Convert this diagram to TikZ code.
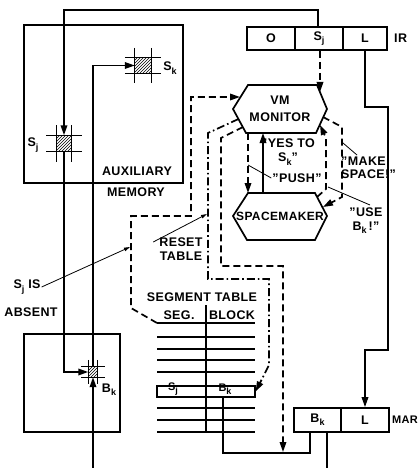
\documentclass[tikz,border=0pt]{standalone}
\usepackage{fontspec}
\setmainfont[LetterSpace=3]{Liberation Sans}
\usetikzlibrary{arrows.meta,patterns}
\newcommand\lsb[1]{\raisebox{-0.5ex}{\fontsize{9}{9}\selectfont #1}}
\newcommand\cellgrid[2]{%
  \draw[gridln] ([xshift=-#2]#1.north west) -- ([xshift=#2]#1.north east);
  \draw[gridln] ([xshift=-#2]#1.south west) -- ([xshift=#2]#1.south east);
  \draw[gridln] ([yshift=#2]#1.north west) -- ([yshift=-#2]#1.south west);
  \draw[gridln] ([yshift=#2]#1.north east) -- ([yshift=-#2]#1.south east);}
\begin{document}
\begin{tikzpicture}[x=1pt,y=-1pt,
  every node/.style={inner sep=0pt, font=\fontsize{12.5}{14}\selectfont\bfseries},
  ln/.style={line width=1.7pt},
  dln/.style={line width=1.7pt, dash pattern=on 7pt off 4pt},
  ddln/.style={line width=1.7pt, dash pattern=on 8pt off 3pt on 1.6pt off 3pt},
  thinln/.style={line width=0.8pt},
  gridln/.style={line width=0.9pt},
  tip/.style={-{Triangle[length=10pt,width=6.5pt]}},
  stip/.style={-{Triangle[length=6pt,width=3.5pt]}},
  regbox/.style={draw, line width=1.7pt, minimum height=23pt},
  cellbox/.style={pattern=north east lines, inner sep=0pt},
  frame/.style={draw, line width=1.4pt, inner sep=0pt},
  hexln/.style={line width=1.7pt}
]
\useasboundingbox (0,0) rectangle (418,468);

% IR register
\node[regbox, minimum width=48pt] (irO) at (271,38.5) {O};
\node[regbox, minimum width=48pt] (irS) at (319,38.5) {S\lsb{j}};
\node[regbox, minimum width=44pt] (irL) at (365,38.5) {L};
\node[anchor=west] (irlab) at (394,38.5) {IR};

% auxiliary memory
\node[frame, minimum width=159pt, minimum height=158pt] (aux) at (103.5,104) {};
\node (auxA) at (137,171) {AUXILIARY};
\node (auxM) at (136,192) {MEMORY};

\node[cellbox, minimum width=16pt, minimum height=15pt] (sk) at (143,65.5) {};
\cellgrid{sk}{10pt}
\node (sklab) at (170,68) {S\lsb{k}};
\node[cellbox, minimum width=15pt, minimum height=16pt] (sj) at (64,143.5) {};
\cellgrid{sj}{10pt}
\node (sjlab) at (33,145) {S\lsb{j}};

% main memory
\node[frame, minimum width=96pt, minimum height=98pt] (mem) at (72,383) {};
\node[cellbox, minimum width=9pt, minimum height=10pt] (bk) at (93,372) {};
\cellgrid{bk}{7pt}
\node (bklab) at (109,390) {B\lsb{k}};

% VM monitor hexagon
\coordinate (vmA) at (248,85);
\coordinate (vmB) at (317,85);
\coordinate (vmC) at (327,109);
\coordinate (vmD) at (316,133);
\coordinate (vmE) at (246,133);
\coordinate (vmF) at (233,109);
\draw[hexln] (vmA) -- (vmB) -- (vmC) -- (vmD) -- (vmE) -- (vmF) -- cycle;
\node[align=center, font=\fontsize{12.5}{17}\selectfont\bfseries] (vm) at (280,109) {VM\\MONITOR};

% spacemaker hexagon
\coordinate (spA) at (248,193);
\coordinate (spB) at (315,193);
\coordinate (spC) at (327,216);
\coordinate (spD) at (315,240);
\coordinate (spE) at (247,240);
\coordinate (spF) at (233,216);
\draw[hexln] (spA) -- (spB) -- (spC) -- (spD) -- (spE) -- (spF) -- cycle;
\node[font=\fontsize{12}{14}\selectfont\bfseries] (spm) at (280,216) {SPACEMAKER};

% segment table
\node (segt) at (202,297) {SEGMENT TABLE};
\node (seg) at (179,315) {SEG.};
\node (blk) at (232,315) {BLOCK};
\foreach \yy in {323,337,349,360,372,408,420,432} \draw[line width=1.1pt] (157,\yy) -- (255,\yy);
\draw[line width=1.1pt] (206,305) -- (206,432);
\node[draw, line width=1.3pt, minimum width=98pt, minimum height=11pt] (row) at (206,391.5) {};
\node[font=\fontsize{11}{12}\selectfont\bfseries] (rowS) at (173,389.5) {S\lsb{j}};
\node[font=\fontsize{11}{12}\selectfont\bfseries] (rowB) at (225,389.5) {B\lsb{k}};

% MAR
\node[regbox, minimum width=47pt, minimum height=24pt] (marB) at (317.5,420) {B\lsb{k}};
\node[regbox, minimum width=48pt, minimum height=24pt] (marL) at (365,420) {L};
\node[anchor=west, font=\fontsize{11}{12}\selectfont\bfseries] (marlab) at (392,420) {MAR};

% solid connectors
\draw[ln,tip] ([xshift=-1pt]irS.north) |- (64,10) -- (sj.north);
\draw[ln,tip] (irL.south) |- (388,107) -- (388,350) -- (365,350) -- (marL.north);
\draw[ln,tip] (sj.south) |- (bk.west);
\coordinate (bkin) at (93,468);
\draw[ln,tip] (bkin) -- (bk.south);
\draw[ln,tip] (bk.north) |- (sk.west);
\coordinate (j1) at (310,453);
\draw[ln] ([xshift=17pt]row.south) |- (j1) -- ([xshift=-7.5pt]marB.south);
\coordinate (marout) at (327,468);
\draw[ln] ([xshift=9.5pt]marB.south) -- (marout);

% dashed connectors
\draw[dln,tip] ([xshift=1pt]irS.south) -- (320,92);
\draw[dln,tip] (157,323) -- (131,308) -- (131,216) -- (191,216) -- (191,97) -- (240,97);
\draw[ddln,tip] (238.5,119) -- (208,133) -- (208,279) -- (269,279) -- (269,365) -- (row.east);
\draw[dln,tip] (243,127) -- (221,138) -- (221,266) -- (283,266) -- (283,452);
\draw[dln,tip] (248,133) -- (248,193);
\draw[ln,tip] (263,193) -- (263,133);
\draw[dln,tip] (317,197) -- (326,189) -- (326,138) -- (320,125);
\draw[dln,tip] (323,117) -- (342,127) -- (342,197) -- (323,207);

% labels
\node[align=center] (yes) at (288,152) {"YES TO\\S\lsb{k}"};
\node (push) at (297,178) {"PUSH"};
\node[align=left, anchor=west, font=\fontsize{12.5}{12.5}\selectfont\bfseries] (make) at (341,168) {"MAKE\\SPACE!"};
\node[align=center, font=\fontsize{12.5}{13.5}\selectfont\bfseries] (use) at (366,221) {"USE\\B\lsb{k}\,!"};
\node[align=center] (reset) at (181,249) {RESET\\TABLE};
\node (sjis) at (27,287) {S\lsb{j} IS};
\node (absent) at (31,312) {ABSENT};

% leaders
\draw[thinln,stip] ([xshift=1pt]sjis.east) -- (130,247);
\draw[thinln,stip] ([shift={(-6pt,7pt)}]reset.west) -- (207,214);
\draw[thinln] ([xshift=-1pt]push.west) -- (248,165);
\draw[thinln] (343,143) -- (357,155);
\draw[thinln] (328,187) -- (370,205);
\end{tikzpicture}
\end{document}
